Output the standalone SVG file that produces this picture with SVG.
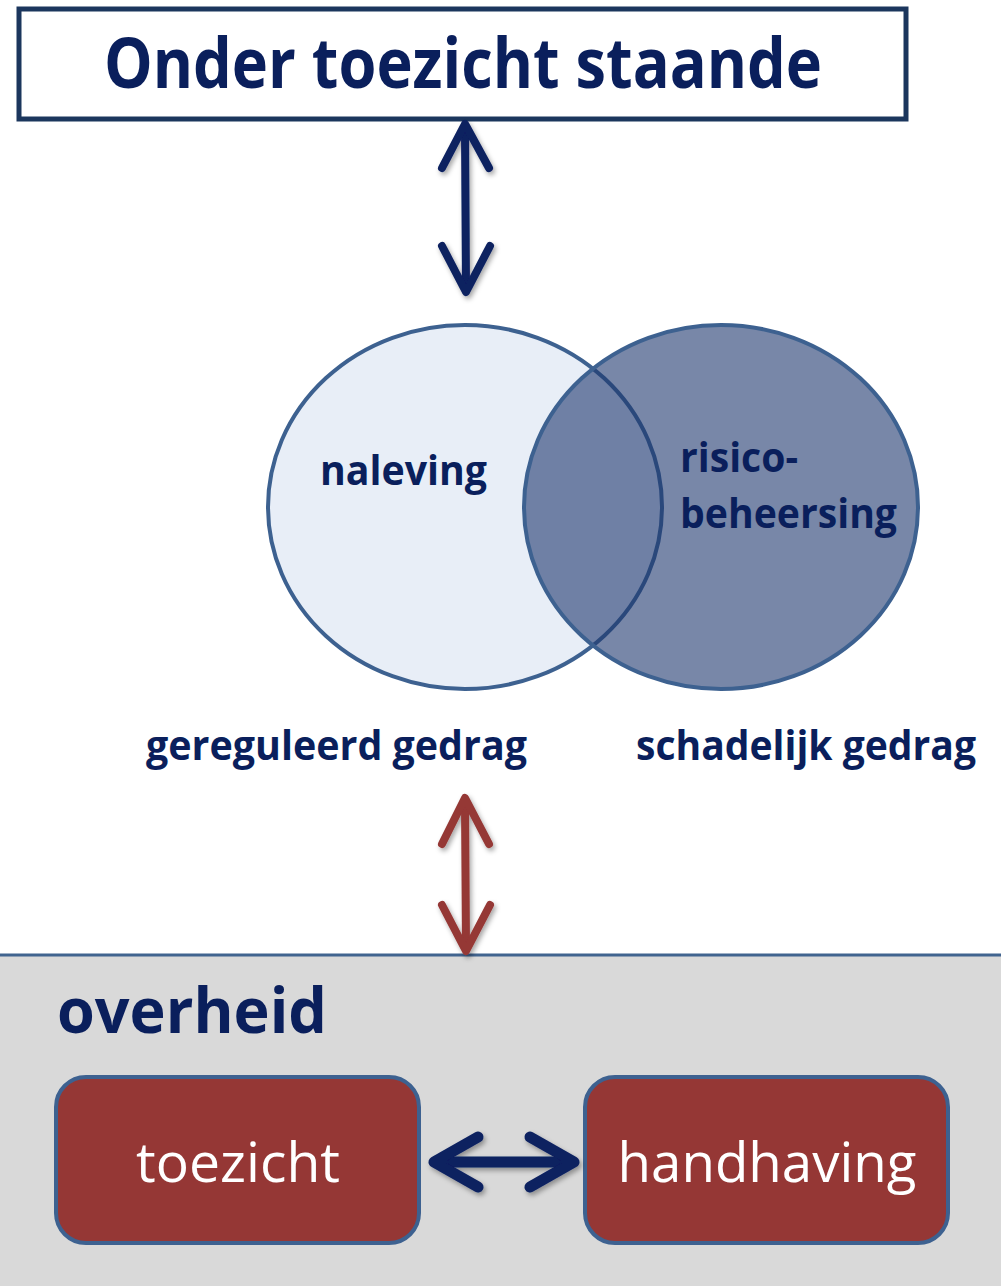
<svg xmlns="http://www.w3.org/2000/svg" width="1001" height="1286" viewBox="0 0 1001 1286">
<style>
.navy{fill:#0a1f5c}
.b{font-family:"Open Sans","Noto Sans","Liberation Sans",sans-serif;font-weight:bold}
.r{font-family:"Open Sans","Noto Sans","Liberation Sans",sans-serif;font-weight:normal;fill:#ffffff}
.arr{fill:none;stroke-linecap:round;stroke-linejoin:round}
</style>
<defs>
<filter id="sh" x="-50%" y="-50%" width="200%" height="200%">
<feDropShadow dx="2" dy="3" stdDeviation="2.5" flood-color="#000" flood-opacity="0.35"/>
</filter>
</defs>
<rect width="1001" height="1286" fill="#ffffff"/>
<g id="overheid-band">
<rect x="-5" y="955" width="1011" height="340" fill="#d9d9d9" stroke="#41648f" stroke-width="3"/>
<text class="b navy" x="57" y="1033" font-size="62" textLength="270" lengthAdjust="spacingAndGlyphs">overheid</text>
</g>
<g id="top-node">
<rect x="19" y="9" width="887" height="110" fill="#ffffff" stroke="#1b365d" stroke-width="5"/>
<text class="b navy" x="104" y="88" font-size="70" textLength="718" lengthAdjust="spacingAndGlyphs">Onder toezicht staande</text>
</g>
<g id="venn">
<g id="naleving">
<ellipse cx="465" cy="507" rx="197" ry="182" fill="#e8eef7" stroke="#3d6190" stroke-width="4"/>
</g>
<g id="risicobeheersing">
<ellipse cx="721" cy="507" rx="197" ry="182" fill="rgb(30,55,110)" fill-opacity="0.6" stroke="#3d6190" stroke-width="4"/>
</g>
<text class="b navy" x="320" y="485" font-size="41" textLength="167" lengthAdjust="spacingAndGlyphs">naleving</text>
<text class="b navy" x="680" y="472" font-size="41" textLength="118" lengthAdjust="spacingAndGlyphs">risico-</text>
<text class="b navy" x="680" y="528" font-size="41" textLength="217" lengthAdjust="spacingAndGlyphs">beheersing</text>
</g>
<g id="gereguleerd">
<text class="b navy" x="146" y="760" font-size="41" textLength="381" lengthAdjust="spacingAndGlyphs">gereguleerd gedrag</text>
</g>
<g id="schadelijk">
<text class="b navy" x="636" y="760" font-size="41" textLength="340" lengthAdjust="spacingAndGlyphs">schadelijk gedrag</text>
</g>
<g id="toezicht">
<rect x="56" y="1077" width="363" height="166" rx="30" fill="#953735" stroke="#3d6190" stroke-width="4"/>
<text class="r" x="238" y="1182" font-size="55" text-anchor="middle" textLength="204" lengthAdjust="spacingAndGlyphs">toezicht</text>
</g>
<g id="handhaving">
<rect x="585" y="1077" width="363" height="166" rx="30" fill="#953735" stroke="#3d6190" stroke-width="4"/>
<text class="r" x="767" y="1182" font-size="55" text-anchor="middle" textLength="299" lengthAdjust="spacingAndGlyphs">handhaving</text>
</g>
<g id="connectors" filter="url(#sh)">
<g class="arr" stroke="#0a2060" stroke-width="8">
<line x1="465" y1="130" x2="466" y2="288"/>
<path d="M442,168 L465,124 L489,168"/>
<path d="M442,246 L466,292 L490,246"/>
</g>
<g class="arr" stroke="#953735" stroke-width="8">
<line x1="465" y1="803" x2="466" y2="947"/>
<path d="M442,844 L465,798 L489,844"/>
<path d="M442,905 L466,951 L490,905"/>
</g>
<g class="arr" stroke="#0a2060" stroke-width="11">
<line x1="440" y1="1162" x2="568" y2="1162"/>
<path d="M478,1137 L434,1162 L478,1187"/>
<path d="M530,1137 L574,1162 L530,1187"/>
</g>
</g>
</svg>
